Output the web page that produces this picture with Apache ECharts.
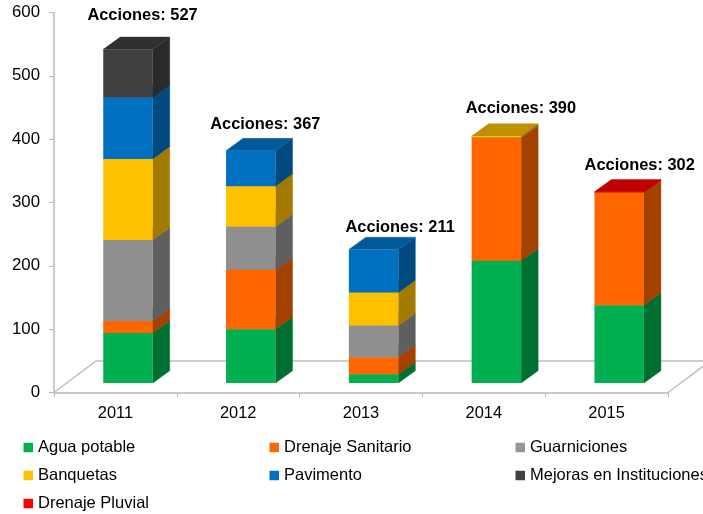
<!DOCTYPE html>
<html><head><meta charset="utf-8">
<style>html,body{margin:0;padding:0;background:#fff}#c{width:703px;height:514px}</style>
<script src="https://cdn.jsdelivr.net/npm/echarts@6/dist/echarts.min.js"></script>
</head><body><div id="c"></div>
<script>
const years = ['2011','2012','2013','2014','2015'];
const aguaPotable = [79,85,14,193,123];
const drenajeSanitario = [19,94,27,194,178];
const guarniciones = [128,68,50,1,0];
const banquetas = [128,64,52,2,0];
const pavimento = [97,56,68,0,0];
const mejoras = [76,0,0,0,0];
const drenajePluvial = [0,0,0,0,1];
const totals = [527,367,211,390,302];

const names = ['Agua potable','Drenaje Sanitario','Guarniciones','Banquetas','Pavimento','Mejoras en Instituciones','Drenaje Pluvial'];
const values = [aguaPotable,drenajeSanitario,guarniciones,banquetas,pavimento,mejoras,drenajePluvial];
const front = ['#00B050','#FF6600','#8F8F8F','#FFC000','#0070C0','#404040','#FF0000'];
const side  = ['#007032','#A34100','#5F5F5F','#A37A00','#004A80','#2A2A2A','#A00000'];
const top_  = ['#009040','#C85000','#767676','#C09000','#005A9A','#303030','#C00000'];
const legendColor = ['#00B050','#FF6600','#969696','#FFC000','#0070C0','#404040','#FF0000'];

// 3D projection constants, in pixels
const floorDx = 12.6, floorDy = 9.4, depthDx = 17, depthDy = 12.3, barW = 49.5;
// hand placement of the total labels relative to the bar
const labelDx = [6,6,18,16,12], labelDy = [-33.5,-26,-22,-28,-26];

function cumulative(si, i){ let s = 0; for (let k = 0; k < si; k++) s += values[k][i]; return s; }

const series = names.map((name, si) => ({
  name, type: 'custom', coordinateSystem: 'cartesian2d',
  itemStyle: { color: legendColor[si] },
  encode: { x: 0, y: 1 },
  data: years.map((y, i) => [i, values[si][i]]),
  clip: false, silent: true,
  renderItem(params, api) {
    const i = api.value(0), v = api.value(1);
    if (!v) return { type: 'group', children: [] };
    const base = cumulative(si, i);
    const p0 = api.coord([i, base]), p1 = api.coord([i, base + v]);
    const x0 = p0[0] + floorDx - barW / 2, x1 = x0 + barW;
    const yb = p0[1] - floorDy, yt = p1[1] - floorDy;
    const poly = (points, fill) => ({ type: 'polygon', shape: { points }, style: { fill, stroke: fill, lineWidth: 0.4 } });
    return { type: 'group', children: [
      poly([[x1,yb],[x1+depthDx,yb-depthDy],[x1+depthDx,yt-depthDy],[x1,yt]], side[si]),
      poly([[x0,yt],[x1,yt],[x1+depthDx,yt-depthDy],[x0+depthDx,yt-depthDy]], top_[si]),
      { type: 'rect', shape: { x: x0, y: yt, width: barW, height: yb - yt }, style: { fill: front[si] } }
    ]};
  }
}));

// Floor of the 3D box
series.unshift({
  type: 'custom', coordinateSystem: 'cartesian2d', silent: true, clip: false, z: 1,
  data: [[0, 0]],
  renderItem(params, api) {
    const cs = params.coordSys;
    const xl = cs.x, xr = cs.x + cs.width, yb = api.coord([0, 0])[1];
    const dx = 42, dy = 31.5;
    return { type: 'polyline',
      shape: { points: [[xl, yb], [xl + dx, yb - dy], [xr + dx, yb - dy], [xr, yb]] },
      style: { stroke: '#BFBFBF', lineWidth: 1.5, fill: null } };
  }
});

// Total labels
series.push({
  type: 'custom', coordinateSystem: 'cartesian2d', silent: true, clip: false, z: 5,
  data: years.map((y, i) => [i, totals[i]]),
  renderItem(params, api) {
    const i = api.value(0);
    let sum = 0; for (const a of values) sum += a[i];
    const p = api.coord([i, sum]);
    const cx = p[0] + floorDx + depthDx / 2 + labelDx[i];
    return { type: 'text', x: cx, y: p[1] - floorDy + labelDy[i],
      style: { text: 'Acciones: ' + api.value(1), align: 'center', verticalAlign: 'middle',
        fontFamily: '"Liberation Sans"', fontWeight: 'bold', fontSize: 16.4, fill: '#000' } };
  }
});

const legendCol = (left, data) => ({
  left, top: 439, height: 90, padding: 0, orient: 'vertical', itemWidth: 9.5, itemHeight: 9.5, itemGap: 11, icon: 'rect', data,
  selectedMode: false,
  textStyle: { fontFamily: '"Liberation Sans"', fontSize: 16.5, color: '#000' }
});

const chart = echarts.init(document.getElementById('c'), null, { renderer: 'canvas' });
chart.setOption({
  animation: false,
  backgroundColor: '#fff',
  grid: { left: 54, top: 12.5, width: 614, height: 380, containLabel: false },
  xAxis: { type: 'category', data: years, boundaryGap: true,
    axisLine: { lineStyle: { color: '#B8B8B8', width: 1.5 } },
    axisTick: { show: true, length: 4.5, alignWithLabel: false, lineStyle: { color: '#B8B8B8', width: 1 } },
    axisLabel: { color: '#000', fontFamily: '"Liberation Sans"', fontSize: 16.4, margin: 13 } },
  yAxis: { type: 'value', min: 0, max: 600, interval: 100,
    axisLine: { show: true, lineStyle: { color: '#B8B8B8', width: 1.5 } },
    axisTick: { show: true, length: 5, lineStyle: { color: '#B8B8B8', width: 1 } },
    splitLine: { show: false },
    axisLabel: { color: '#000', fontFamily: '"Liberation Sans"', fontSize: 16.8, margin: 14, padding: [2,0,0,0] } },
  legend: [
    legendCol(23.5, ['Agua potable','Banquetas','Drenaje Pluvial']),
    legendCol(269.5, ['Drenaje Sanitario','Pavimento']),
    legendCol(515.5, ['Guarniciones','Mejoras en Instituciones'])
  ],
  series
});
</script></body></html>
